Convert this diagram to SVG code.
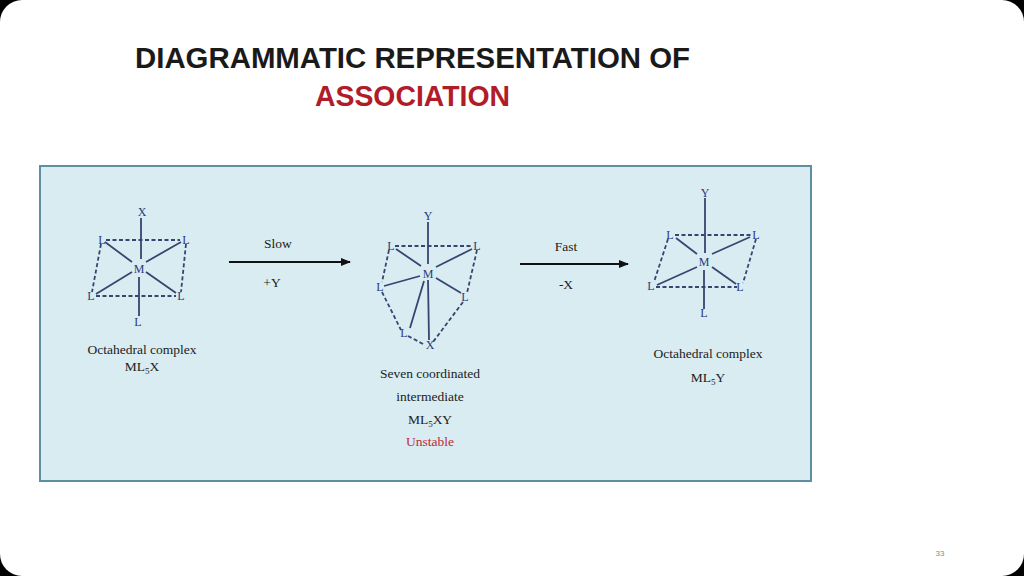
<svg xmlns="http://www.w3.org/2000/svg" width="1024" height="576" viewBox="0 0 1024 576">
<style>
.t{font-family:"Liberation Serif",serif;fill:#222;font-size:13.5px;text-anchor:middle}
.a{font-family:"Liberation Serif",serif;fill:#2a3a7a;font-size:12px;text-anchor:middle}
.s{stroke:#3a4470;stroke-width:1.8;fill:none}
.d{stroke:#3a4470;stroke-width:1.8;fill:none;stroke-dasharray:4 2.5}
.h{font-family:"Liberation Sans",sans-serif;font-weight:bold;font-size:29px}
</style>
<defs><marker id="ah" markerWidth="10" markerHeight="8" refX="9" refY="4" orient="auto" markerUnits="userSpaceOnUse"><path d="M0,0L10,4L0,8z" fill="#111"/></marker></defs>
<rect width="1024" height="576" fill="#000"/>
<rect x="0" y="0" width="1024" height="576" rx="22" fill="#fff"/>
<text class="h" x="135" y="68" textLength="555" lengthAdjust="spacingAndGlyphs" fill="#1a1a1a">DIAGRAMMATIC  REPRESENTATION OF</text>
<text class="h" x="315" y="106" textLength="195" lengthAdjust="spacingAndGlyphs" fill="#b01c2a">ASSOCIATION</text>
<rect x="40" y="166" width="771" height="315" fill="#d8ecf1" stroke="#5e8fa0" stroke-width="2"/>
<g id="complex1">
<path class="s" d="M141,218V259M139,277V316M105,242L132,262M146,262L181,242M132,272L96,294M146,272L176,293"/>
<path class="d" d="M106,240H180M96,296H176M101,244L92,292M186,244L181,292"/>
<text class="a" x="142" y="216">X</text><text class="a" x="102" y="244">L</text><text class="a" x="186" y="244">L</text>
<text class="a" x="139" y="273" font-size="14">M</text><text class="a" x="91" y="300">L</text><text class="a" x="181" y="300">L</text><text class="a" x="138" y="326">L</text>
<text class="t" x="142" y="354">Octahedral complex</text>
<text class="t" x="142" y="371">ML<tspan font-size="9" dy="3">5</tspan><tspan dy="-3">X</tspan></text>
</g>
<g id="intermediate">
<path class="s" d="M428,222V264M428,280L429,340M396,249L421,266M436,267L472,249M420,276L384,286M436,278L461,293M424,281L410,328"/>
<path class="d" d="M395,246H472M389,250L382,282M477,250L467,293M382,292L401,330M408,336L425,345M463,302L433,342"/>
<text class="a" x="428" y="220">Y</text><text class="a" x="391" y="250">L</text><text class="a" x="477" y="250">L</text>
<text class="a" x="428" y="278" font-size="14">M</text><text class="a" x="380" y="291">L</text><text class="a" x="465" y="301">L</text><text class="a" x="404" y="337">L</text><text class="a" x="430" y="349">X</text>
<text class="t" x="430" y="378">Seven coordinated</text>
<text class="t" x="430" y="401">intermediate</text>
<text class="t" x="430" y="424">ML<tspan font-size="9" dy="3">5</tspan><tspan dy="-3">XY</tspan></text>
<text class="t" x="430" y="446" style="fill:#c0283a">Unstable</text>
</g>
<g id="complex2">
<path class="s" d="M705,198V253M704,270V309M676,238L697,254M712,254L750,237M697,267L657,285M712,267L736,284"/>
<path class="d" d="M675,235H751M656,287H737M668,239L654,282M756,239L743,283"/>
<text class="a" x="705" y="197">Y</text><text class="a" x="670" y="239">L</text><text class="a" x="756" y="239">L</text>
<text class="a" x="704" y="266" font-size="14">M</text><text class="a" x="651" y="290">L</text><text class="a" x="740" y="291">L</text><text class="a" x="704" y="317">L</text>
<text class="t" x="708" y="358">Octahedral complex</text>
<text class="t" x="708" y="382">ML<tspan font-size="9" dy="3">5</tspan><tspan dy="-3">Y</tspan></text>
</g>
<g id="connectors">
<path d="M229,262H350" stroke="#111" stroke-width="2" marker-end="url(#ah)"/>
<path d="M520,264H628" stroke="#111" stroke-width="2" marker-end="url(#ah)"/>
</g>
<text class="t" x="278" y="248">Slow</text><text class="t" x="272" y="287">+Y</text>
<text class="t" x="566" y="251">Fast</text><text class="t" x="566" y="289">-X</text>
<text x="940" y="556" font-family="Liberation Sans,sans-serif" font-size="8" fill="#888" text-anchor="middle">33</text>
</svg>
